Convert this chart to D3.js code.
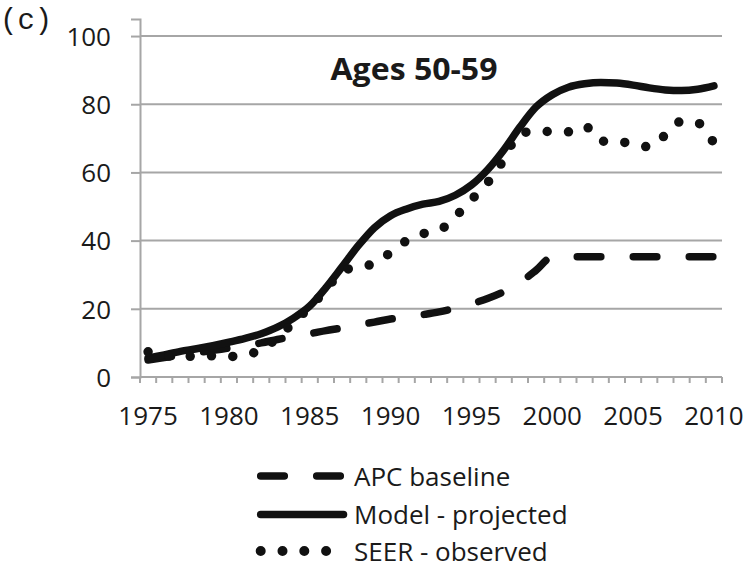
<!DOCTYPE html>
<html>
<head>
<meta charset="utf-8">
<script src="https://cdn.jsdelivr.net/npm/d3@7/dist/d3.min.js"></script>
<style>
  html, body { margin: 0; padding: 0; background: #fff; }
  svg { display: block; }
</style>
</head>
<body>
<svg id="chart" width="749" height="568"></svg>
<script>
// ---- data ----
const years = d3.range(1975, 2011);
const xTickLabels = [1975, 1980, 1985, 1990, 1995, 2000, 2005, 2010];
const yTicks = [0, 20, 40, 60, 80, 100];

const apcBaseline = [5.0, 5.7, 6.4, 7.1, 7.8, 8.5, 9.2, 10.0, 11.0, 11.9,
  12.7, 13.6, 14.4, 15.3, 16.1, 17.0, 17.6, 18.3, 19.1, 20.2,
  21.5, 23.0, 25.0, 27.7, 31.3, 35.2, 35.3, 35.3, 35.3, 35.3,
  35.3, 35.3, 35.3, 35.3, 35.3, 35.3];

const modelProjected = [5.5, 6.5, 7.5, 8.3, 9.2, 10.2, 11.3, 12.7, 14.6, 17.3,
  20.8, 26.2, 32.3, 38.5, 43.8, 47.3, 49.3, 50.7, 51.5, 53.3,
  56.3, 60.8, 66.6, 73.3, 79.2, 82.8, 85.0, 86.0, 86.4, 86.2,
  85.6, 84.8, 84.2, 84.0, 84.4, 85.4];

const seerObserved = [7.4, 6.3, 6.0, 6.1, 6.2, 6.0, 6.5, 8.0, 11.5, 16.0,
  20.5, 25.5, 31.0, 32.3, 33.3, 36.5, 40.0, 42.0, 43.0, 47.0,
  52.0, 57.0, 63.7, 71.5, 72.0, 72.0, 71.9, 73.6, 69.2, 69.0,
  68.5, 67.5, 71.0, 75.0, 74.5, 68.5];

const seriesNames = ["APC baseline", "Model - projected", "SEER - observed"];
const panelLabel = "(c)";
const title = "Ages 50-59";

// ---- layout ----
const svg = d3.select("#chart");
const mLeft = 140, mRight = 722, mBottom = 377, mTop = 19;
const font = "'Open Sans', 'Noto Sans', sans-serif";
const gridColor = "#a6a6a6";
const ink = "#111";

svg.append("rect").attr("width", 749).attr("height", 568).attr("fill", "#fff");

const x = d3.scaleBand().domain(years).range([mLeft, mRight]).padding(0);
const y = d3.scaleLinear().domain([0, 105]).range([mBottom, mTop]);
const cx = d => x(d) + x.bandwidth() / 2;

// gridlines
svg.append("g").selectAll("line")
  .data(yTicks.filter(d => d > 0))
  .join("line")
  .attr("x1", mLeft).attr("x2", mRight)
  .attr("y1", d => y(d)).attr("y2", d => y(d))
  .attr("stroke", gridColor).attr("stroke-width", 2);

// y axis
const yAxis = svg.append("g")
  .attr("transform", `translate(${mLeft},0)`)
  .call(d3.axisLeft(y).tickValues(yTicks).tickSize(9).tickPadding(20).tickFormat(d3.format("d")));
yAxis.select(".domain").attr("stroke", gridColor).attr("stroke-width", 2);
yAxis.selectAll(".tick line").attr("stroke", gridColor).attr("stroke-width", 2);
yAxis.selectAll(".tick text")
  .attr("font-family", font).attr("font-size", 26).attr("fill", "#1a1a1a")
  .attr("dy", "0.36em");

// x axis (labels)
const xAxis = svg.append("g")
  .attr("transform", `translate(0,${mBottom})`)
  .call(d3.axisBottom(x).tickValues(xTickLabels).tickSize(0).tickPadding(0));
xAxis.select(".domain").attr("stroke", gridColor).attr("stroke-width", 2)
  .attr("d", `M${mLeft},0H${mRight}`);
xAxis.selectAll(".tick text")
  .attr("font-family", font).attr("font-size", 26).attr("fill", "#1a1a1a")
  .attr("y", 48).attr("dy", 0);

// x tick marks between categories
const boundaries = years.map(d => x(d)).concat([mRight]);
svg.append("g").selectAll("line")
  .data(boundaries)
  .join("line")
  .attr("x1", d => d).attr("x2", d => d)
  .attr("y1", mBottom).attr("y2", mBottom + 6)
  .attr("stroke", gridColor).attr("stroke-width", 2);

// series lines
const lineGen = vals => d3.line()
  .x((d, i) => cx(years[i]))
  .y(d => y(d))
  .curve(d3.curveMonotoneX)(vals);

const styles = [
  { dash: "23.6,32.4", width: 7.5 },
  { dash: null, width: 7.5 },
  { dash: "0,21.3", width: 9.5 }
];
const allSeries = [apcBaseline, modelProjected, seerObserved];

allSeries.forEach((vals, i) => {
  const p = svg.append("path")
    .attr("d", lineGen(vals))
    .attr("fill", "none")
    .attr("stroke", ink)
    .attr("stroke-width", styles[i].width)
    .attr("stroke-linecap", "round")
    .attr("stroke-linejoin", "round");
  if (styles[i].dash) p.attr("stroke-dasharray", styles[i].dash);
});

// title
svg.append("text")
  .attr("x", 414).attr("y", 80)
  .attr("text-anchor", "middle")
  .attr("font-family", font).attr("font-weight", "bold").attr("font-size", 30)
  .attr("fill", "#1a1a1a")
  .attr("textLength", 167).attr("lengthAdjust", "spacingAndGlyphs")
  .text(title);

// panel label
svg.append("text")
  .attr("x", 0).attr("y", 29)
  .attr("font-family", "'Liberation Mono', 'DejaVu Sans Mono', monospace")
  .attr("font-size", 29).attr("fill", "#1a1a1a")
  .text(panelLabel);

// legend
const legendRowsY = [476, 514.5, 551];
const lg = svg.append("g");
seriesNames.forEach((name, i) => {
  const yy = legendRowsY[i];
  const p = lg.append("path")
    .attr("d", d3.line()([[260.7, yy], [i === 2 ? 330 : 343.5, yy]]))
    .attr("fill", "none").attr("stroke", ink)
    .attr("stroke-width", styles[i].width)
    .attr("stroke-linecap", "round");
  if (i === 0) p.attr("stroke-dasharray", "23.6,32.4");
  if (i === 2) p.attr("stroke-dasharray", "0,21.8").attr("stroke-width", 10);
  lg.append("text")
    .attr("x", 354).attr("y", yy + 9.5)
    .attr("font-family", font).attr("font-size", 26).attr("fill", "#1a1a1a")
    .text(name);
});
</script>
</body>
</html>
